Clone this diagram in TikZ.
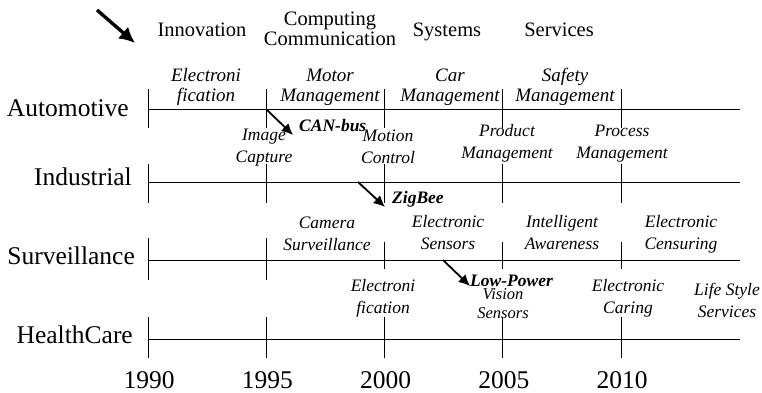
\documentclass[tikz,border=0pt]{standalone}
\usepackage{fontspec}
\setmainfont{Liberation Serif}
\usetikzlibrary{arrows.meta,positioning,calc}

\begin{document}
\begin{tikzpicture}[
  x=1pt,y=-1pt,
  lane/.style={font=\fontsize{25.5}{28}\selectfont,inner sep=0pt},
  head/.style={font=\fontsize{20.5}{19.5}\selectfont,align=center,inner sep=0pt},
  evt/.style={font=\fontsize{17.5}{21.5}\selectfont\itshape,align=center,inner sep=0pt},
  bigevt/.style={evt,font=\fontsize{19}{19.5}\selectfont\itshape},
  tech/.style={font=\fontsize{17.5}{18}\selectfont\bfseries\itshape,inner sep=0pt},
  msg/.style={line width=1.8pt,-{Latex[length=4mm,width=3.8mm]}},
  axis/.style={line width=0.9pt}
]
  \useasboundingbox (0,0) rectangle (762,392);

  % header
  \coordinate (h0) at (97,10);
  \coordinate (h1) at (135,43);
  \draw[line width=3.4pt,-{Latex[length=5.5mm,width=5.5mm]}] (h0) -- (h1);
  \node[head,anchor=base] (innov) at (202,36) {Innovation};
  \node[head,anchor=base] (comp) at (330,45) {Computing\\Communication};
  \node[head,anchor=base] (syst) at (447,36) {Systems};
  \node[head,anchor=base] (serv) at (559,36) {Services};

  % rows and ticks
  \foreach \r/\y/\t/\b in {auto/109/89/128, indu/182/164/203, hlth/339/317/358}{
    \draw[axis] (148,\y) -- (740,\y);
    \foreach \k in {0,...,4}
      \draw[axis] (148+118.25*\k,\t) -- (148+118.25*\k,\b);
  }
  \draw[axis] (148,260) -- (740,260);
  \foreach \k in {0,1}
    \draw[axis] (148+118.25*\k,238) -- (148+118.25*\k,280);
  \foreach \k in {2,3,4}
    \draw[axis] (148+118.25*\k,242) -- (148+118.25*\k,269);

  \node[lane,anchor=base east] (auto) at (129,116) {Automotive};
  \node[lane,anchor=base east] (indu) at (132,185) {Industrial};
  \node[lane,anchor=base east] (surv) at (135,264) {Surveillance};
  \node[lane,anchor=base east] (hlth) at (133,343) {HealthCare};

  % years
  \foreach \yr [count=\k from 0] in {1990,1995,2000,2005,2010}
    \node[lane,anchor=base] (y\yr) at (149+118.25*\k,388) {\yr};

  % automotive
  \node[bigevt,anchor=base] (a1) at (206,101) {Electroni\\fication};
  \node[bigevt,anchor=base] (a2) at (330,101) {Motor\\Management};
  \node[bigevt,anchor=base] (a3) at (450,101) {Car\\Management};
  \node[bigevt,anchor=base] (a4) at (565,101) {Safety\\Management};

  % industrial
  \node[evt,anchor=base] (i1) at (264,162) {Image\\Capture};
  \node[evt,anchor=base] (i2) at (388,163) {Motion\\Control};
  \node[evt,anchor=base] (i3) at (507,158) {Product\\Management};
  \node[evt,anchor=base] (i4) at (622,158) {Process\\Management};

  % surveillance
  \node[evt,anchor=base] (s1) at (327,250) {Camera\\Surveillance};
  \node[evt,anchor=base] (s2) at (448,249) {Electronic\\Sensors};
  \node[evt,anchor=base] (s3) at (562,249) {Intelligent\\Awareness};
  \node[evt,anchor=base] (s4) at (681,249) {Electronic\\Censuring};

  % healthcare
  \node[evt,anchor=base] (c1) at (383,313) {Electroni\\fication};
  \node[evt,anchor=base,font=\fontsize{16.5}{19}\selectfont\itshape] (c2) at (503,318) {Vision\\Sensors};
  \node[evt,anchor=base] (c3) at (628,313) {Electronic\\Caring};
  \node[evt,anchor=base] (c4) at (727,317) {Life Style\\Services};

  % enabling technologies
  \node[tech,anchor=base west] (can) at (299,131) {CAN-bus};
  \node[tech,anchor=base west] (zig) at (392,203) {ZigBee};
  \node[tech,anchor=base west] (lowp) at (470,286) {Low-Power};
  \coordinate (can0) at (267,110);
  \coordinate (zig0) at (358,182);
  \coordinate (lowp0) at (443,260);
  \draw[msg] (can0) -- (293,135);
  \draw[msg] (zig0) -- (385,207);
  \draw[msg] (lowp0) -- (470,286);
\end{tikzpicture}
\end{document}
